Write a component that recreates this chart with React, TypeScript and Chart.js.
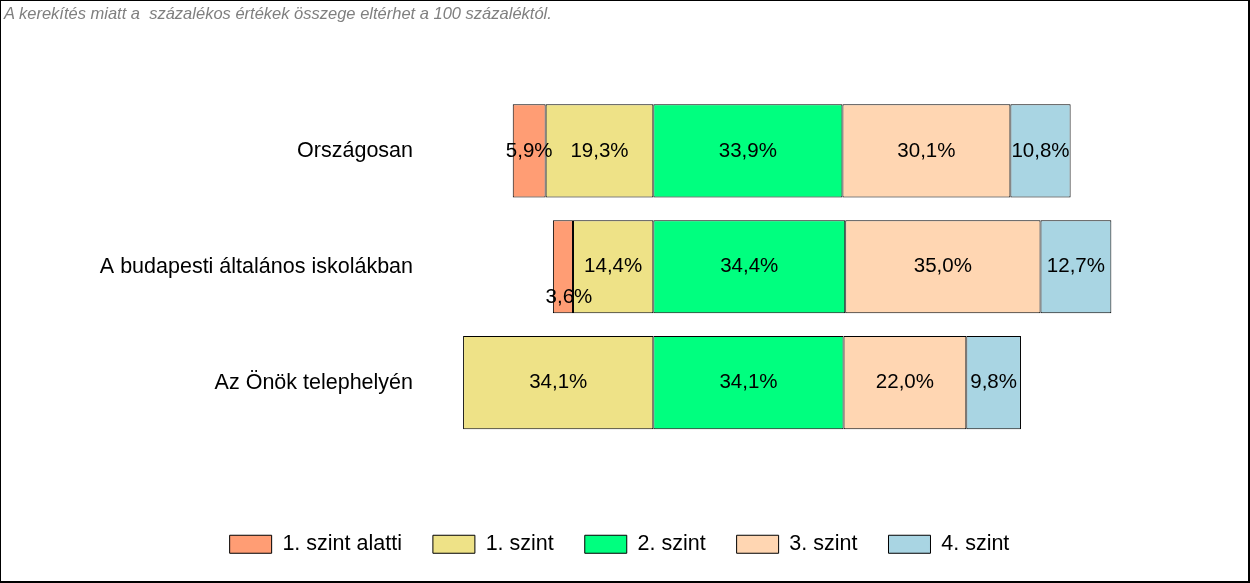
import React, { useEffect, useRef } from "react";
import { Chart, registerables } from "chart.js";

Chart.register(...registerables);

const categories = ["Országosan", "A budapesti általános iskolákban", "Az Önök telephelyén"];
const seriesNames = ["1. szint alatti", "1. szint", "2. szint", "3. szint", "4. szint"];
const belowLevel1 = [5.9, 3.6, 0];
const level1 = [19.3, 14.4, 34.1];
const level2 = [33.9, 34.4, 34.1];
const level3 = [30.1, 35.0, 22.0];
const level4 = [10.8, 12.7, 9.8];
const colors = ["#FF9D74", "#EEE287", "#00FF7F", "#FFD6B2", "#A9D5E3"];
const note = "A kerekítés miatt a  százalékos értékek összege eltérhet a 100 százaléktól.";

const FONT = "'Liberation Sans', Arial, sans-serif";

function buildRanges() {
  // diverging: 1. szint alatti and 1. szint to the left of zero
  const ranges: [number, number][][] = [[], [], [], [], []];
  categories.forEach((_, i) => {
    const a = belowLevel1[i], b = level1[i], c = level2[i], d = level3[i], e = level4[i];
    ranges[1].push([-b, 0]);
    ranges[0].push([-b - a, -b]);
    ranges[2].push([0, c]);
    ranges[3].push([c, c + d]);
    ranges[4].push([c + d, c + d + e]);
  });
  return ranges;
}

const values = [belowLevel1, level1, level2, level3, level4];

const labelPlugin = {
  id: "barLabels",
  afterDatasetsDraw(chart: any) {
    const ctx = chart.ctx;
    ctx.save();
    ctx.font = `20.5px ${FONT}`;
    ctx.fillStyle = "#000";
    ctx.textAlign = "center";
    ctx.textBaseline = "middle";
    chart.data.datasets.forEach((ds: any, di: number) => {
      const meta = chart.getDatasetMeta(di);
      meta.data.forEach((el: any, i: number) => {
        const v = values[di][i];
        if (!v) return;
        let cx = (el.x + el.base) / 2;
        let cy = el.y;
        if (v < 4) {
          cy += 31;
          cx += 6;
        }
        ctx.fillText(v.toFixed(1).replace(".", ",") + "%", cx, cy);
      });
    });
    ctx.restore();
  },
};

export default function App() {
  const ref = useRef<HTMLCanvasElement>(null);
  useEffect(() => {
    if (!ref.current) return;
    const ranges = buildRanges();
    const chart = new Chart(ref.current, {
      type: "bar",
      data: {
        labels: categories,
        datasets: seriesNames.map((name, k) => ({
          label: name,
          data: ranges[k] as any,
          backgroundColor: colors[k],
          borderColor: "#000",
          borderWidth: 1,
          borderSkipped: false,
          grouped: false,
          categoryPercentage: 1,
          barPercentage: 0.804,
        })),
      },
      options: {
        indexAxis: "y",
        responsive: false,
        animation: false,
        layout: { padding: { top: 92, right: 10, bottom: 16, left: 0 } },
        scales: {
          x: {
            min: -42,
            max: 104.8,
            display: true,
            ticks: { display: false },
            grid: { display: false },
            border: { display: false },
            afterFit: (s: any) => {
              s.height = 62;
            },
          },
          y: {
            ticks: { color: "#000", font: { family: FONT, size: 21.5 }, padding: -2 },
            grid: { display: false },
            border: { display: false },
            afterFit: (s: any) => {
              s.width = 418;
            },
          },
        },
        plugins: {
          legend: {
            position: "bottom",
            labels: {
              boxWidth: 42,
              boxHeight: 18,
              padding: 31,
              color: "#000",
              font: { family: FONT, size: 21.5 },
            },
          },
          tooltip: { enabled: false },
        },
      },
      plugins: [labelPlugin],
    });
    return () => chart.destroy();
  }, []);
  return (
    <div
      style={{
        position: "absolute",
        left: 0,
        top: 0,
        width: 1250,
        height: 583,
        boxSizing: "border-box",
        borderLeft: "1px solid #000",
        borderTop: "1px solid #000",
        borderRight: "2px solid #000",
        borderBottom: "2px solid #000",
        background: "#fff",
      }}
    >
      <div
        style={{
          position: "absolute",
          left: 3,
          top: 3,
          fontFamily: FONT,
          fontStyle: "italic",
          fontSize: 16.5,
          color: "#7f7f7f",
          whiteSpace: "pre",
          lineHeight: "19px",
        }}
      >
        {note}
      </div>
      <canvas ref={ref} width={1247} height={580} style={{ display: "block", width: 1247, height: 580 }} />
    </div>
  );
}
